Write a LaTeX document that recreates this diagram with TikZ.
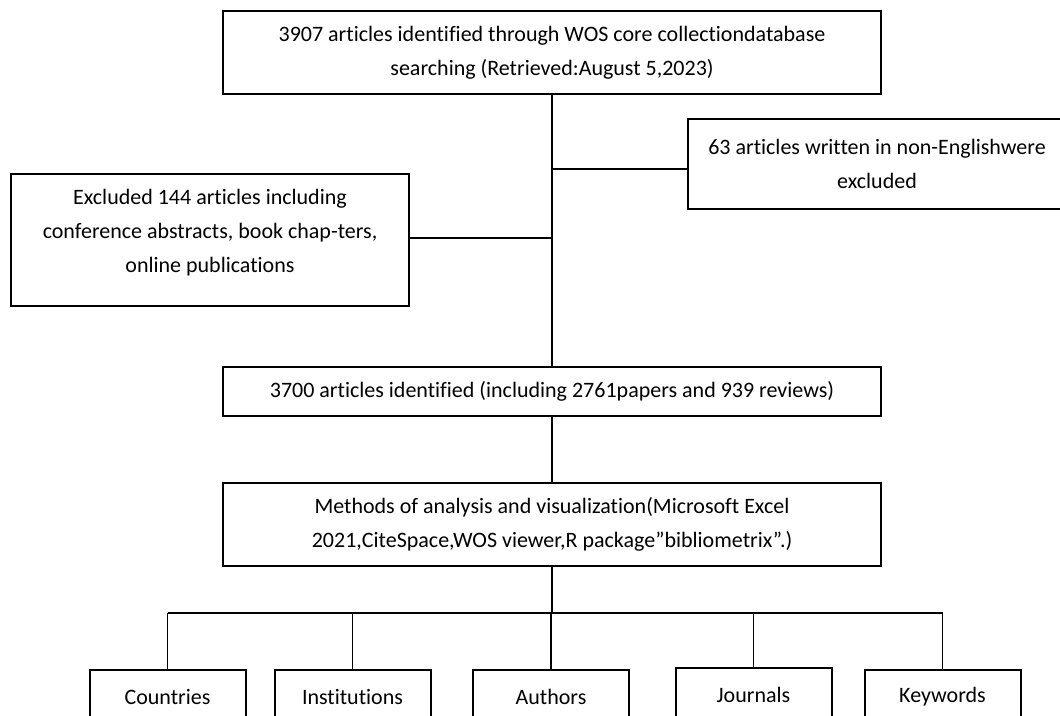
\documentclass[tikz,border=0pt]{standalone}
\usepackage{fontspec}
\setmainfont{Carlito}[Ligatures=NoCommon]
\tikzset{
  stagebox/.style={draw, line width=1.5pt, align=center, inner sep=0pt,
    font=\fontsize{16.5}{25.5}\selectfont},
  link/.style={line width=1pt}
}

\begin{document}
\begin{tikzpicture}[x=0.75pt, y=-0.75pt]
  \clip (0,0) rectangle (1060,716);
  \fill[white] (0,0) rectangle (1060,716);
  \node[stagebox, minimum width=658*0.75pt, minimum height=83*0.75pt] (found) at (552,52.5)
    {3907 articles identified through WOS core collectiondatabase\\searching (Retrieved:August 5,2023)};
  \node[stagebox, minimum width=378*0.75pt, minimum height=90*0.75pt] (nonen) at (877,164)
    {63 articles written in non-Englishwere\\excluded};
  \node[stagebox, minimum width=398*0.75pt, minimum height=132*0.75pt, text depth=14pt] (other) at (210,240)
    {Excluded 144 articles including\\conference abstracts, book chap-ters,\\online publications};
  \node[stagebox, minimum width=658*0.75pt, minimum height=49*0.75pt] (kept) at (552,391.5)
    {3700 articles identified (including 2761papers and 939 reviews)};
  \node[stagebox, minimum width=658*0.75pt, minimum height=83*0.75pt] (meth) at (552,524.5)
    {Methods of analysis and visualization(Microsoft Excel\\2021,CiteSpace,WOS viewer,R package”bibliometrix”.)};
  \node[stagebox, minimum width=156*0.75pt, minimum height=54*0.75pt, anchor=north] (ctry) at (167.5,669) {Countries};
  \node[stagebox, minimum width=156*0.75pt, minimum height=54*0.75pt, anchor=north] (inst) at (352.5,669) {Institutions};
  \node[stagebox, minimum width=156*0.75pt, minimum height=54*0.75pt, anchor=north] (auth) at (551,669) {Authors};
  \node[stagebox, minimum width=156*0.75pt, minimum height=54*0.75pt, anchor=north] (jour) at (753.5,667) {Journals};
  \node[stagebox, minimum width=156*0.75pt, minimum height=54*0.75pt, anchor=north] (keyw) at (942.5,669) {Keywords};
  % joints on the main line
  \coordinate (j1) at (552,169);
  \coordinate (j2) at (552,238);
  \coordinate (bar) at (552,613);
  \draw[link] (found) -- (kept);
  \draw[link] (j1) -- (j1 -| nonen.west);
  \draw[link] (j2) -- (j2 -| other.east);
  \draw[link] (kept) -- (meth);
  \draw[link] (meth) -- (bar);
  \draw[link] (bar -| ctry) -- (bar -| keyw);
  \draw[link] (bar -| ctry) -- (ctry);
  \draw[link] (bar -| inst) -- (inst);
  \draw[link] (bar -| auth) -- (auth);
  \draw[link] (bar -| jour) -- (jour);
  \draw[link] (bar -| keyw) -- (keyw);
\end{tikzpicture}
\end{document}
